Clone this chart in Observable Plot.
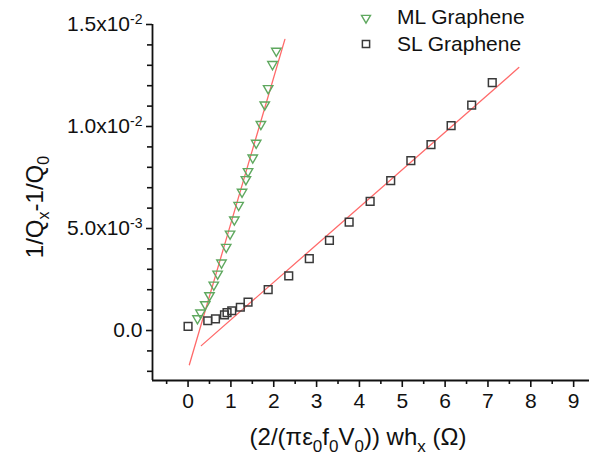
<!DOCTYPE html>
<html>
<head>
<meta charset="utf-8">
<script src="https://cdn.jsdelivr.net/npm/d3@7"></script>
<script src="https://cdn.jsdelivr.net/npm/@observablehq/plot@0.6"></script>
<style>
  html, body { margin: 0; padding: 0; background: #fff; }
  #chart svg { display: block; }
</style>
</head>
<body>
<div id="chart"></div>
<script>
// ML Graphene (green inverted triangles)
const mlX = [0.22, 0.29, 0.40, 0.50, 0.60, 0.69, 0.78, 0.89, 0.98, 1.08, 1.18, 1.26, 1.35, 1.40, 1.51, 1.59, 1.70, 1.79, 1.87, 1.97, 2.06];
const mlY = [0.00059, 0.00087, 0.00128, 0.00172, 0.00224, 0.00278, 0.00332, 0.00409, 0.00474, 0.00543, 0.00615, 0.00679, 0.00741, 0.00780, 0.00847, 0.00919, 0.01011, 0.01107, 0.01187, 0.01305, 0.01370];
// SL Graphene (black squares)
const slX = [0.00, 0.46, 0.64, 0.85, 0.91, 1.02, 1.22, 1.40, 1.87, 2.35, 2.83, 3.30, 3.76, 4.25, 4.73, 5.20, 5.67, 6.14, 6.62, 7.10];
const slY = [0.00020, 0.00048, 0.00057, 0.00077, 0.00088, 0.00097, 0.00114, 0.00139, 0.00200, 0.00268, 0.00352, 0.00442, 0.00531, 0.00633, 0.00735, 0.00833, 0.00911, 0.01004, 0.01105, 0.01215];
// Linear fit lines (endpoints)
const mlFitX = [0.03, 2.26];
const mlFitY = [-0.00168, 0.01427];
const slFitX = [0.31, 7.72];
const slFitY = [-0.00074, 0.01289];

const seriesNames = ["ML Graphene", "SL Graphene"];
const xMajor = [0, 1, 2, 3, 4, 5, 6, 7, 8, 9];
const xMinor = [-0.5, 0.5, 1.5, 2.5, 3.5, 4.5, 5.5, 6.5, 7.5, 8.5];
const yMajor = [0, 0.005, 0.01, 0.015];
const yMinor = [-0.002, -0.001, 0.001, 0.002, 0.003, 0.004, 0.006, 0.007, 0.008, 0.009, 0.011, 0.012, 0.013, 0.014];
const xDomain = [-0.83, 9.37];
const yDomain = [-0.00245, 0.015];

const green = "#5fa85f";
const squareColor = "#3a3a3a";
const fitColor = "#ff6a6a";
const font = "'Liberation Sans', Arial, sans-serif";

const ml = mlX.map((x, i) => ({x, y: mlY[i]}));
const sl = slX.map((x, i) => ({x, y: slY[i]}));
const mlFit = mlFitX.map((x, i) => ({x, y: mlFitY[i]}));
const slFit = slFitX.map((x, i) => ({x, y: slFitY[i]}));

function sciFormat(d) {
  if (d === 0) return "0.0";
  const e = Math.floor(Math.log10(Math.abs(d)) + 1e-9);
  const m = d / Math.pow(10, e);
  return m.toFixed(1) + "x10^" + e;
}

const chart = Plot.plot({
  width: 589,
  height: 461,
  marginLeft: 152,
  marginRight: 0,
  marginTop: 24,
  marginBottom: 81,
  style: {fontFamily: font, fontSize: "21px", color: "#111", background: "#fff"},
  x: {domain: xDomain},
  y: {domain: yDomain},
  marks: [
    Plot.ruleX([xDomain[0]], {stroke: "#111", strokeWidth: 1.8}),
    Plot.ruleY([yDomain[0]], {stroke: "#111", strokeWidth: 1.8}),
    Plot.axisX({ticks: xMajor, tickSize: 7, tickPadding: 6, strokeWidth: 1.6, label: null, tickFormat: d => String(d)}),
    Plot.axisX({ticks: xMinor, tickSize: 4, strokeWidth: 1.6, label: null, tickFormat: () => ""}),
    Plot.axisY({ticks: yMajor, tickSize: 6, tickPadding: 4, strokeWidth: 1.6, label: null, tickFormat: sciFormat}),
    Plot.axisY({ticks: yMinor, tickSize: 5, strokeWidth: 1.6, label: null, tickFormat: () => ""}),
    Plot.line(mlFit, {x: "x", y: "y", stroke: fitColor, strokeWidth: 1.3}),
    Plot.line(slFit, {x: "x", y: "y", stroke: fitColor, strokeWidth: 1.3}),
    Plot.dot(sl, {x: "x", y: "y", symbol: "square2", r: 4.9, stroke: squareColor, strokeWidth: 1.5, fill: "none"}),
    Plot.dot(ml, {x: "x", y: "y", symbol: "triangle2", rotate: 180, r: 4.5, stroke: green, strokeWidth: 1.4, fill: "none"})
  ]
});

document.getElementById("chart").appendChild(chart);

const svg = d3.select(chart);

// superscripts in y tick labels
svg.selectAll("text").each(function() {
  const t = d3.select(this);
  const s = t.text();
  const k = s.indexOf("^");
  if (k >= 0) {
    const base = s.slice(0, k), exp = s.slice(k + 1);
    t.text(null);
    t.append("tspan").text(base);
    t.append("tspan").attr("font-size", "14px").attr("dy", "-0.55em").text(exp);
  }
});

// Axis titles with subscripts
const yt = svg.append("text")
  .attr("transform", "translate(43,207) rotate(-90)")
  .attr("text-anchor", "middle")
  .attr("font-family", font)
  .attr("font-size", "24px")
  .attr("fill", "#111");
yt.append("tspan").text("1/Q");
yt.append("tspan").attr("font-size", "16px").attr("dy", 6).text("x");
yt.append("tspan").attr("dy", -6).text("-1/Q");
yt.append("tspan").attr("font-size", "16px").attr("dy", 6).text("0");

const xt = svg.append("text")
  .attr("x", 358)
  .attr("y", 445)
  .attr("text-anchor", "middle")
  .attr("font-family", font)
  .attr("font-size", "24px")
  .attr("fill", "#111");
const parts = [["(2/(πε", 0], ["0", 1], ["f", 0], ["0", 1], ["V", 0], ["0", 1], [")) wh", 0], ["x", 1], [" (Ω)", 0]];
let prevSub = 0;
for (const [txt, sub] of parts) {
  const ts = xt.append("tspan").text(txt);
  if (sub) ts.attr("font-size", "17px");
  const dy = sub && !prevSub ? 7 : (!sub && prevSub ? -7 : 0);
  if (dy) ts.attr("dy", dy);
  prevSub = sub;
}

// Legend
const legend = svg.append("g").attr("font-family", font).attr("font-size", "21px").attr("fill", "#111");
const triPath = d3.symbol(d3.symbolTriangle2, Math.PI * 4.3 * 4.3)();
const sqPath = d3.symbol(d3.symbolSquare2, Math.PI * 4.6 * 4.6)();
legend.append("path").attr("d", triPath).attr("transform", "translate(366,18) rotate(180)")
  .attr("fill", "none").attr("stroke", green).attr("stroke-width", 1.4);
legend.append("path").attr("d", sqPath).attr("transform", "translate(366,44)")
  .attr("fill", "none").attr("stroke", squareColor).attr("stroke-width", 1.5);
legend.append("text").attr("x", 397).attr("y", 24).attr("text-anchor", "start").text(seriesNames[0]);
legend.append("text").attr("x", 397).attr("y", 51).attr("text-anchor", "start").text(seriesNames[1]);
</script>
</body>
</html>
